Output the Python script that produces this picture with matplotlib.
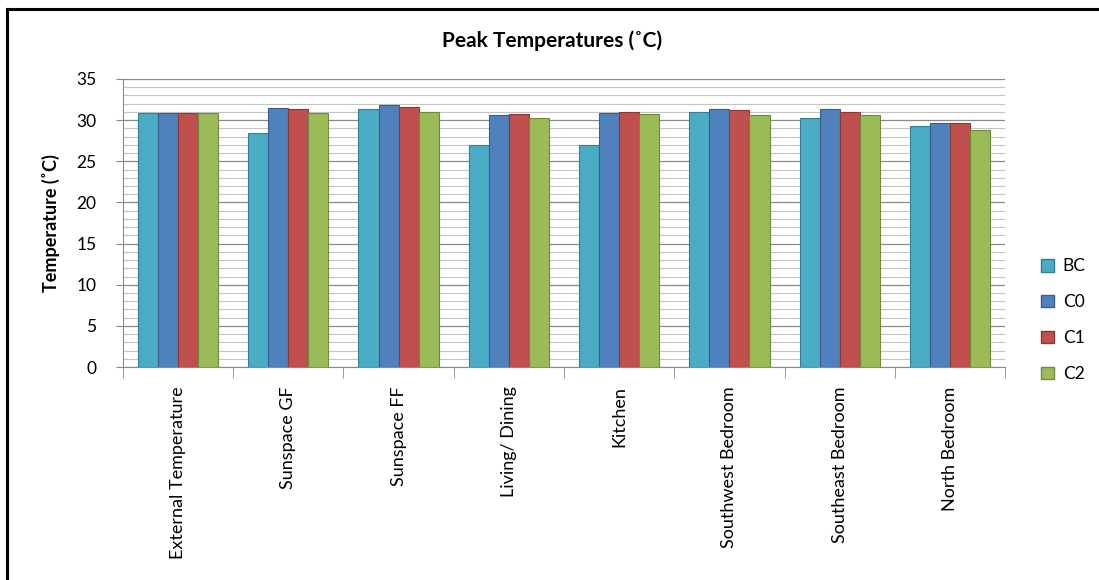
import numpy as np
import matplotlib.pyplot as plt
from matplotlib.lines import Line2D
from matplotlib.ticker import MultipleLocator

plt.rcParams['font.family'] = ['Lato', 'DejaVu Sans']

rooms = ["External Temperature", "Sunspace GF", "Sunspace FF", "Living/ Dining",
         "Kitchen", "Southwest Bedroom", "Southeast Bedroom", "North Bedroom"]
series = ["BC", "C0", "C1", "C2"]
bc = [30.9, 28.4, 31.3, 27.0, 27.0, 31.0, 30.3, 29.3]
c0 = [30.9, 31.5, 31.9, 30.6, 30.9, 31.3, 31.3, 29.6]
c1 = [30.9, 31.3, 31.6, 30.8, 31.0, 31.2, 31.0, 29.6]
c2 = [30.9, 30.9, 31.0, 30.3, 30.7, 30.6, 30.6, 28.8]
colors = ["#4BACC6", "#4F81BD", "#C0504D", "#9BBB59"]
edges = ["#357f93", "#385d8a", "#8c3836", "#71893f"]

fig = plt.figure(figsize=(10.99, 5.80), dpi=100)
ax = fig.add_axes([0.1119, 0.3672, 0.8026, 0.4966])

x = np.arange(len(rooms))
w = 0.182
for i, vals in enumerate([bc, c0, c1, c2]):
    ax.bar(x + (i - 1.5) * w, vals, w, color=colors[i], edgecolor=edges[i],
           linewidth=0.8, label=series[i], zorder=3)

ax.set_xlim(-0.5, len(rooms) - 0.5)
ax.set_ylim(0, 35)
ax.yaxis.set_major_locator(MultipleLocator(5))
ax.yaxis.set_minor_locator(MultipleLocator(1))
ax.grid(which='major', axis='y', color='#8a8a8a', linewidth=0.9, zorder=0)
ax.grid(which='minor', axis='y', color='#c4c4c4', linewidth=0.8, zorder=0)
ax.tick_params(axis='y', which='minor', length=0)
ax.tick_params(axis='y', which='major', labelsize=12.5, length=5, color='#8a8a8a', pad=14)

ax.set_xticks(x)
ax.set_xticklabels(rooms, rotation=90, fontsize=13)
ax.tick_params(axis='x', which='major', length=0, pad=14)
ax.set_xticks(np.arange(len(rooms) + 1) - 0.5, minor=True)
ax.tick_params(axis='x', which='minor', length=8, color='#8a8a8a')

for s in ['top', 'right']:
    ax.spines[s].set_visible(False)
for s in ['left', 'bottom']:
    ax.spines[s].set_color('#8a8a8a')

ax.set_ylabel("Temperature (˚C)", fontsize=13, fontweight='bold', labelpad=12)
fig.text(0.502, 0.93, "Peak Temperatures (˚C)", ha='center', va='center',
         fontsize=15, fontweight='bold')

handles = [plt.Rectangle((0, 0), 1, 1, facecolor=colors[i], edgecolor=edges[i])
           for i in range(4)]
fig.legend(handles, series, loc='center left', bbox_to_anchor=(0.933, 0.448),
           frameon=False, fontsize=12.5, handlelength=0.75, handleheight=0.75,
           labelspacing=1.15, handletextpad=0.5)

# outer frame of the original picture (top and left edges)
fig.add_artist(Line2D([0.006, 1.0], [0.984, 0.984], color='black', linewidth=2.2,
                      transform=fig.transFigure))
fig.add_artist(Line2D([0.0065, 0.0065], [0.0, 0.984], color='black', linewidth=2.2,
                      transform=fig.transFigure))

fig.savefig("out.png", dpi=100)
